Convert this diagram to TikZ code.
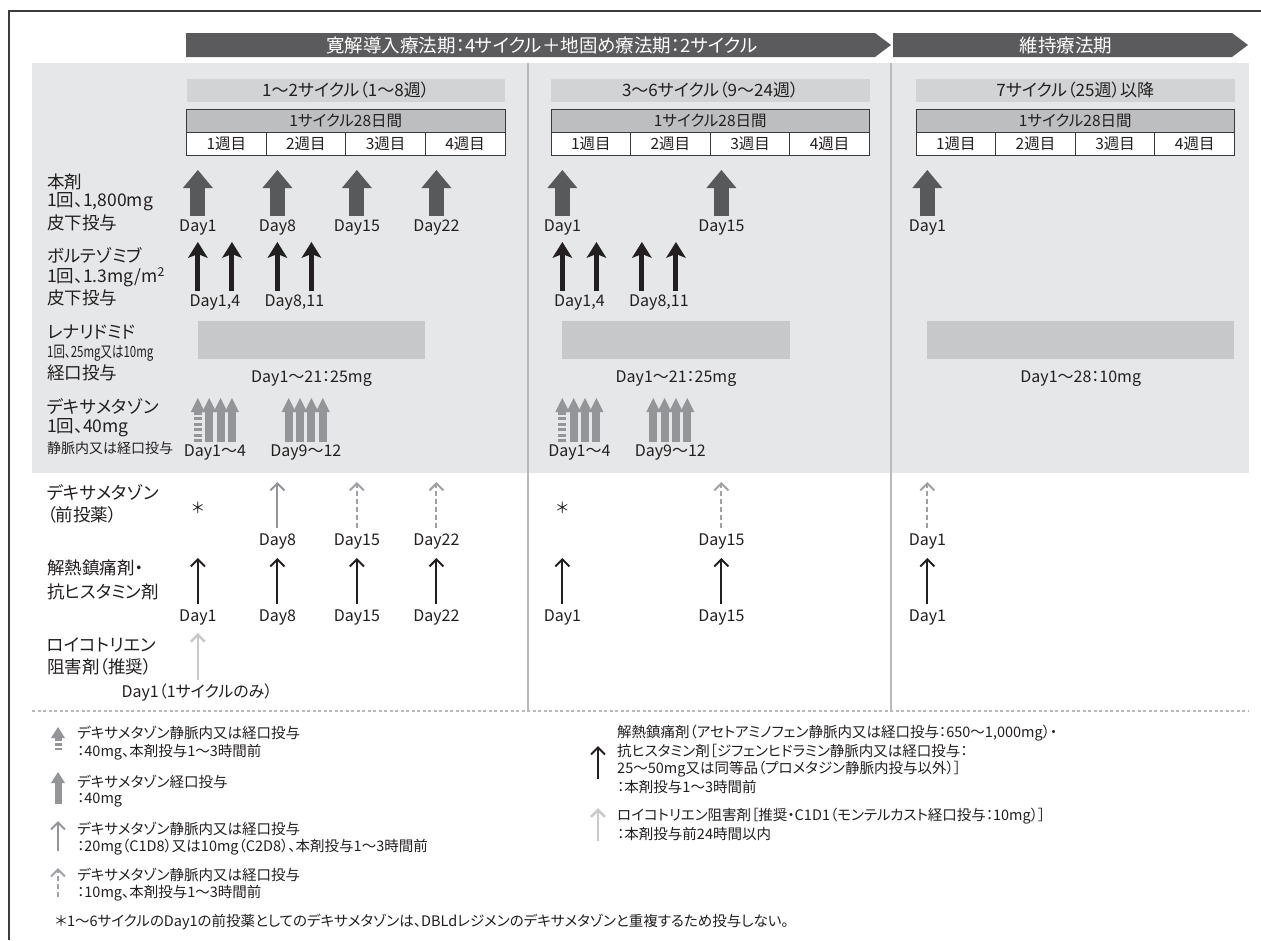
\documentclass[tikz,border=0pt]{standalone}
\usepackage{fontspec}
\usepackage{graphicx}
\setmainfont{Noto Sans CJK JP}[RawFeature=+palt]
\usetikzlibrary{arrows.meta}
\newcommand\fsz[1]{\fontsize{#1pt}{#1pt}\selectfont}
\definecolor{txt}{HTML}{231F20}
\definecolor{bannerc}{HTML}{5B5B5D}
\definecolor{bgc}{HTML}{E6E7E8}
\definecolor{titlec}{HTML}{D1D3D4}
\definecolor{tabc}{HTML}{BCBEC0}
\definecolor{tabline}{HTML}{3A3A3A}
\definecolor{bigc}{HTML}{58595B}
\definecolor{bortc}{HTML}{231F20}
\definecolor{lenc}{HTML}{C7C8CA}
\definecolor{dexc}{HTML}{939598}
\definecolor{dexdc}{HTML}{9FA1A4}
\definecolor{leuc}{HTML}{C8C9CB}
\definecolor{sepc}{HTML}{B9BABC}
\definecolor{framec}{HTML}{3C3C3C}
\begin{document}
\begin{tikzpicture}[x=1pt,y=-1pt,
  lbl/.style={anchor=west,inner sep=0pt,font=\fsz{17.5},text=txt},
  lblsmall/.style={anchor=west,inner sep=0pt,font=\fsz{14},text=txt},
  day/.style={inner sep=0pt,font=\fsz{16},text=txt},
  leg/.style={anchor=west,inner sep=0pt,font=\fsz{14.5},text=txt},
  bannertext/.style={inner sep=0pt,font=\fsz{18.5},text=white},
  titlebox/.style={fill=titlec,minimum width=318.5pt,minimum height=23pt,inner sep=0pt,font=\fsz{17},text=txt},
  tabhead/.style={fill=tabc,draw=tabline,line width=1pt,minimum width=318.5pt,minimum height=23pt,inner sep=0pt,font=\fsz{15.5},text=txt},
  weekcell/.style={fill=white,draw=tabline,line width=1pt,minimum width=79.625pt,minimum height=23pt,inner sep=0pt,font=\fsz{15.5},text=txt},
  bigarr/.style={draw=bigc,line width=15pt,-{Triangle[length=18pt,width=30pt,line width=0pt]}},
  bortarr/.style={draw=bortc,line width=5pt,-{Stealth[length=16pt,width=20pt,inset=4pt,line width=0pt]}},
  dexarr/.style={draw=dexc,line width=8pt,-{Triangle[length=14pt,width=14pt,line width=0pt]}},
  dexshaft/.style={draw=dexc,line width=8pt,dash pattern=on 3pt off 2.5pt},
  thinarr/.style={line width=2pt,-{Straight Barb[length=7pt,width=14pt]}},
  predex/.style={thinarr,draw=dexc},
  predexd/.style={thinarr,draw=dexdc,dash pattern=on 5pt off 3pt},
  antiarr/.style={thinarr,draw=bortc},
  leuarr/.style={thinarr,draw=leuc,line width=2.5pt},
  ast/.style={inner sep=0pt,font=\fsz{15},text=txt},
  legdex/.style={draw=dexc,line width=7pt,-{Triangle[length=11pt,width=14pt,line width=0pt]}},
  legdexshaft/.style={draw=dexc,line width=7pt,dash pattern=on 2.5pt off 2pt},
]
\useasboundingbox (0,0) rectangle (1261,940);
\fill[white] (0,0) rectangle (1261,940);
% frame
\draw[framec,line width=1.2pt] (9,940) -- (9,11) -- (1261,11);
% grey area
\fill[bgc] (32,63) rectangle (1249,473);
% separators
\draw[sepc,line width=1.6pt] (528,63) -- (528,711);
\draw[sepc,line width=1.6pt] (891,63) -- (891,711);
\draw[sepc,line width=1.2pt,dash pattern=on 3pt off 2.5pt] (32,711) -- (1249,711);
% banners
\fill[bannerc] (186,33) -- (875,33) -- (891,45) -- (875,57) -- (186,57) -- cycle;
\node[bannertext] (ban1) at (542,45) {寛解導入療法期：4サイクル＋地固め療法期：2サイクル};
\fill[bannerc] (893,33) -- (1232,33) -- (1248,45) -- (1232,57) -- (893,57) -- cycle;
\node[bannertext] (ban2) at (1066,45) {維持療法期};
% cycle headers
\foreach \xo/\id/\ttl in {186.5/a/{1〜2サイクル（1〜8週）},551/b/{3〜6サイクル（9〜24週）},916/c/{7サイクル（25週）以降}}{
  \node[titlebox] (title\id) at (\xo+159.25,90.5) {\ttl};
  \node[tabhead] (head\id) at (\xo+159.25,120.5) {1サイクル28日間};
  \foreach \w in {1,2,3,4}{
    \node[weekcell] (wk\id\w) at ({\xo+(\w-0.5)*79.625},143.5) {{\w}週目};
  }
}
% left labels
\node[lbl] (l1a) at (47,182) {本剤};
\node[lbl] (l1b) at (47,202) {1回、1,800mg};
\node[lbl] (l1c) at (47,223) {皮下投与};
\node[lbl] (l2a) at (47,255) {ボルテゾミブ};
\node[lbl] (l2b) at (47,277) {1回、1.3mg/m\textsuperscript{2}};
\node[lbl] (l2c) at (47,298) {皮下投与};
\node[lbl] (l3a) at (47,332) {レナリドミド};
\node[lbl] (l3b) at (47,353) {\scalebox{0.74}[1]{\fsz{15.5}1回、25mg又は10mg}};
\node[lbl] (l3c) at (47,373) {経口投与};
\node[lbl] (l4a) at (47,407) {デキサメタゾン};
\node[lbl] (l4b) at (47,428) {1回、40mg};
\node[lblsmall] (l4c) at (47,448) {静脈内又は経口投与};
\node[lbl] (l5a) at (47,493) {デキサメタゾン};
\node[lbl] (l5b) at (47,515) {（前投薬）};
\node[lbl] (l6a) at (47,568) {解熱鎮痛剤・};
\node[lbl] (l6b) at (47,592) {抗ヒスタミン剤};
\node[lbl] (l7a) at (47,645) {ロイコトリエン};
\node[lbl] (l7b) at (47,667) {阻害剤（推奨）};
% study drug
\foreach \xo/\id/\dl in {186.5/a/{1,8,15,22},551/b/{1,15},916/c/{1}}{
  \foreach \d in \dl {
    \coordinate (hb\id\d) at ({\xo+\d*11.36},216);
    \coordinate (ht\id\d) at ({\xo+\d*11.36},170);
    \draw[bigarr] (hb\id\d) -- (ht\id\d);
    \node[day] (hl\id\d) at ({\xo+\d*11.36},228) {Day{\d}};
  }
}
% bortezomib
\foreach \xo/\id in {186.5/a,551/b}{
  \foreach \d in {1,4,8,11}{
    \coordinate (bb\id\d) at ({\xo+\d*11.36},291);
    \coordinate (bt\id\d) at ({\xo+\d*11.36},242);
    \draw[bortarr] (bb\id\d) -- (bt\id\d);
  }
  \node[day] (bla\id) at ({\xo+2.5*11.36},303) {Day1,4};
  \node[day] (blb\id) at ({\xo+9.5*11.36},303) {Day8,11};
}
% lenalidomide
\foreach \xo/\id/\de/\lt in {186.5/a/21/{Day1〜21：25mg},551/b/21/{Day1〜21：25mg},916/c/28/{Day1〜28：10mg}}{
  \fill[lenc] ({\xo+11.36},321) rectangle ({\xo+\de*11.36},359);
  \node[day] (ll\id) at ({\xo+(1+\de)*5.68},379) {{\lt}};
}
% dexamethasone
\foreach \xo/\id in {186.5/a,551/b}{
  \coordinate (dsb\id) at ({\xo+11.36},442);
  \coordinate (dsm\id) at ({\xo+11.36},411);
  \coordinate (dhm\id) at ({\xo+11.36},413);
  \coordinate (dht\id) at ({\xo+11.36},398);
  \draw[dexshaft] (dsb\id) -- (dsm\id);
  \draw[dexarr] (dhm\id) -- (dht\id);
  \foreach \d in {2,3,4,9,10,11,12}{
    \coordinate (db\id\d) at ({\xo+\d*11.36},442);
    \coordinate (dt\id\d) at ({\xo+\d*11.36},398);
    \draw[dexarr] (db\id\d) -- (dt\id\d);
  }
  \node[day] (dla\id) at ({\xo+2.5*11.36},453) {Day1〜4};
  \node[day] (dlb\id) at ({\xo+10.5*11.36},453) {Day9〜12};
}
% premedication dexamethasone
\node[ast] (asta) at ({186.5+11.36},508) {＊};
\node[ast] (astb) at ({551+11.36},508) {＊};
\coordinate (pa8b) at ({186.5+8*11.36},528);
\coordinate (pa8t) at ({186.5+8*11.36},482);
\draw[predex] (pa8b) -- (pa8t);
\node[day] (pla8) at ({186.5+8*11.36},541) {Day8};
\foreach \xo/\id/\dl in {186.5/a/{15,22},551/b/{15},916/c/{1}}{
  \foreach \d in \dl {
    \coordinate (pb\id\d) at ({\xo+\d*11.36},528);
    \coordinate (pt\id\d) at ({\xo+\d*11.36},482);
    \draw[predexd] (pb\id\d) -- (pt\id\d);
    \node[day] (pl\id\d) at ({\xo+\d*11.36},541) {Day{\d}};
  }
}
% antipyretic / antihistamine
\foreach \xo/\id/\dl in {186.5/a/{1,8,15,22},551/b/{1,15},916/c/{1}}{
  \foreach \d in \dl {
    \coordinate (ab\id\d) at ({\xo+\d*11.36},604);
    \coordinate (at\id\d) at ({\xo+\d*11.36},558);
    \draw[antiarr] (ab\id\d) -- (at\id\d);
    \node[day] (al\id\d) at ({\xo+\d*11.36},617) {Day{\d}};
  }
}
% leukotriene
\coordinate (leub) at ({186.5+11.36},680);
\coordinate (leut) at ({186.5+11.36},633);
\draw[leuarr] (leub) -- (leut);
\node[day] (leul) at (197,693) {Day1（1サイクルのみ）};
% legend left
\coordinate (i1b) at (58,750); \coordinate (i1m) at (58,737);
\coordinate (i1h) at (58,739); \coordinate (i1t) at (58,727);
\draw[legdexshaft] (i1b) -- (i1m);
\draw[legdex] (i1h) -- (i1t);
\node[leg] (g1a) at (77,733) {デキサメタゾン静脈内又は経口投与};
\node[leg] (g1b) at (77,752) {：40mg、本剤投与1〜3時間前};
\coordinate (i2b) at (58,804); \coordinate (i2t) at (58,772);
\draw[legdex] (i2b) -- (i2t);
\node[leg] (g2a) at (77,782) {デキサメタゾン経口投与};
\node[leg] (g2b) at (77,800) {：40mg};
\coordinate (i3b) at (58,851); \coordinate (i3t) at (58,821);
\draw[predex] (i3b) -- (i3t);
\node[leg] (g3a) at (77,829) {デキサメタゾン静脈内又は経口投与};
\node[leg] (g3b) at (77,847) {：20mg（C1D8）又は10mg（C2D8）、本剤投与1〜3時間前};
\coordinate (i4b) at (58,897); \coordinate (i4t) at (58,868);
\draw[predexd] (i4b) -- (i4t);
\node[leg] (g4a) at (77,875) {デキサメタゾン静脈内又は経口投与};
\node[leg] (g4b) at (77,893) {：10mg、本剤投与1〜3時間前};
\node[leg] (foot) at (55,922) {＊1〜6サイクルのDay1の前投薬としてのデキサメタゾンは、DBLdレジメンのデキサメタゾンと重複するため投与しない。};
% legend right
\coordinate (r1b) at (598,779); \coordinate (r1t) at (598,746);
\draw[antiarr] (r1b) -- (r1t);
\node[leg] (h1a) at (617,733) {解熱鎮痛剤（アセトアミノフェン静脈内又は経口投与：650〜1,000mg）・};
\node[leg] (h1b) at (617,751) {抗ヒスタミン剤［ジフェンヒドラミン静脈内又は経口投与：};
\node[leg] (h1c) at (617,769) {25〜50mg又は同等品（プロメタジン静脈内投与以外）］};
\node[leg] (h1d) at (617,787) {：本剤投与1〜3時間前};
\coordinate (r2b) at (598,841); \coordinate (r2t) at (598,808);
\draw[leuarr] (r2b) -- (r2t);
\node[leg] (h2a) at (617,816) {ロイコトリエン阻害剤［推奨・C1D1（モンテルカスト経口投与：10mg）］};
\node[leg] (h2b) at (617,834) {：本剤投与前24時間以内};
\end{tikzpicture}
\end{document}
